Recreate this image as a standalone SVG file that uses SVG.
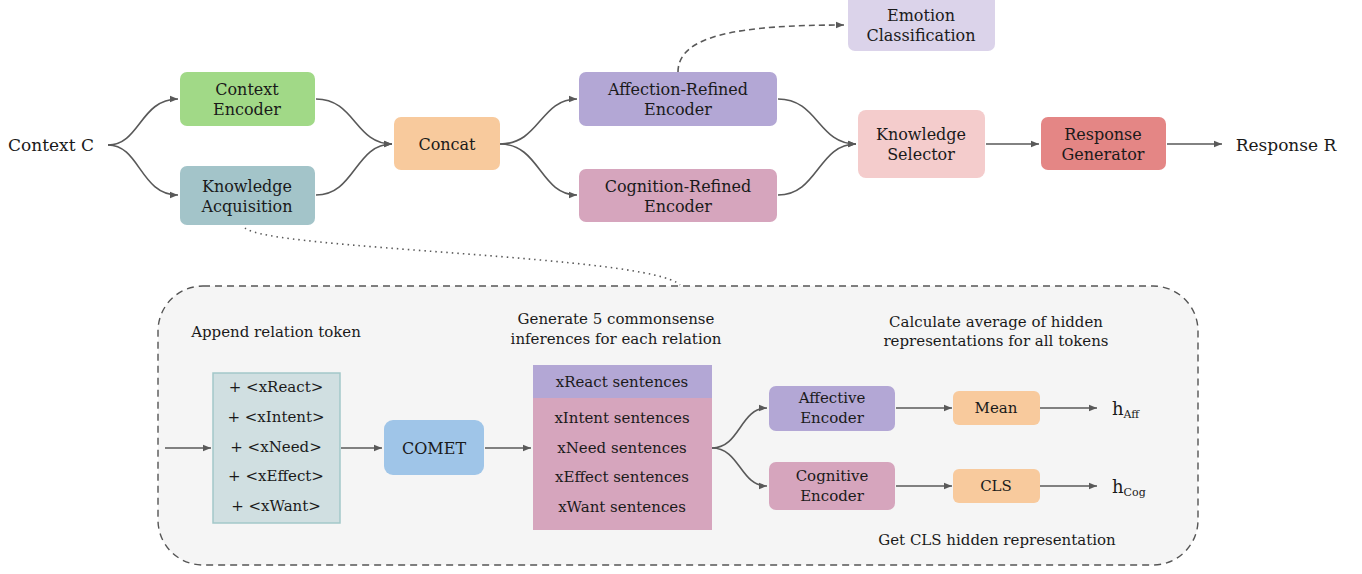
<svg xmlns="http://www.w3.org/2000/svg" width="1362" height="574" viewBox="0 0 1362 574">
<defs>
<marker id="ah" viewBox="0 0 10 10" refX="10" refY="5" markerWidth="8" markerHeight="8" markerUnits="userSpaceOnUse" orient="auto"><path d="M0,1 L10,5 L0,9 z" fill="#595959"/></marker>
<style>
text{font-family:"DejaVu Serif","Liberation Serif",serif;fill:#1a1a1a;text-anchor:middle;dominant-baseline:central}
.t{font-size:16px}
.s{font-size:15px}
.big{font-size:17px}
.c{fill:none;stroke:#595959;stroke-width:1.6}
.a{marker-end:url(#ah)}
</style>
</defs>
<rect width="1362" height="574" fill="#ffffff"/>
<g id="panel">
<rect x="158" y="286" width="1040" height="279" rx="45" fill="#f5f5f5" stroke="#555" stroke-width="1.4" stroke-dasharray="7,5"/>
</g>
<g id="connectors">
<path class="c a" d="M108,145 C140,145 140,99 178,99"/>
<path class="c a" d="M108,145 C140,145 140,195 178,195"/>
<path class="c a" d="M316,99 C355,99 355,144 392,144"/>
<path class="c a" d="M316,195 C355,195 355,144 392,144"/>
<path class="c a" d="M500,144 C540,144 540,99 577,99"/>
<path class="c a" d="M500,144 C540,144 540,195 577,195"/>
<path class="c a" d="M778,99 C818,99 818,144 856,144"/>
<path class="c a" d="M778,195 C818,195 818,144 856,144"/>
<path class="c a" d="M986,144 L1039,144"/>
<path class="c a" d="M1167,144 L1222,144"/>
<path class="c a" d="M678,72 C678,35 740,25 844,25" stroke-dasharray="6,4"/>
<path class="c" d="M245,228 C270,250 650,255 680,285" stroke-dasharray="1.5,4" stroke-width="1.5"/>
<path class="c a" d="M165,448 L211,448"/>
<path class="c a" d="M341,448 L382,448"/>
<path class="c a" d="M485,448 L531,448"/>
<path class="c a" d="M712,448 C740,448 740,408 767,408"/>
<path class="c a" d="M712,448 C740,448 740,486 767,486"/>
<path class="c a" d="M896,408 L952,408"/>
<path class="c a" d="M896,486 L952,486"/>
<path class="c a" d="M1040,408 L1097,408"/>
<path class="c a" d="M1040,486 L1097,486"/>
</g>
<g id="context-c"><text class="big" x="51" y="145">Context C</text></g>
<g id="context-encoder"><rect x="180" y="72" width="135" height="54" rx="7" fill="#a1d987"/><text class="t" x="247" y="89">Context</text><text class="t" x="247" y="109">Encoder</text></g>
<g id="knowledge-acquisition"><rect x="180" y="166" width="135" height="59" rx="7" fill="#a3c4c9"/><text class="t" x="247" y="186">Knowledge</text><text class="t" x="247" y="206">Acquisition</text></g>
<g id="concat"><rect x="394" y="117" width="106" height="53" rx="7" fill="#f8ca9d"/><text class="t" x="447" y="144">Concat</text></g>
<g id="affection-refined-encoder"><rect x="579" y="72" width="198" height="54" rx="7" fill="#b3a7d5"/><text class="t" x="678" y="89">Affection-Refined</text><text class="t" x="678" y="109">Encoder</text></g>
<g id="cognition-refined-encoder"><rect x="579" y="169" width="198" height="53" rx="7" fill="#d6a5bd"/><text class="t" x="678" y="186">Cognition-Refined</text><text class="t" x="678" y="206">Encoder</text></g>
<g id="emotion-classification"><rect x="848" y="-6" width="147" height="57" rx="7" fill="#dbd3ea"/><text class="t" x="921" y="15">Emotion</text><text class="t" x="921" y="35">Classification</text></g>
<g id="knowledge-selector"><rect x="858" y="110" width="127" height="68" rx="8" fill="#f4cccc"/><text class="t" x="921" y="134">Knowledge</text><text class="t" x="921" y="154">Selector</text></g>
<g id="response-generator"><rect x="1041" y="117" width="125" height="53" rx="7" fill="#e48685"/><text class="t" x="1103" y="134">Response</text><text class="t" x="1103" y="154">Generator</text></g>
<g id="response-r"><text class="big" x="1286" y="145">Response R</text></g>
<g id="labels">
<text class="s" x="276" y="332">Append relation token</text>
<text class="s" x="616" y="319">Generate 5 commonsense</text>
<text class="s" x="616" y="339">inferences for each relation</text>
<text class="s" x="996" y="322">Calculate average of hidden</text>
<text class="s" x="996" y="341">representations for all tokens</text>
<text class="s" x="997" y="540">Get CLS hidden representation</text>
</g>
<g id="relation-tokens"><rect x="213" y="373" width="127" height="150" fill="#d0dfe1" stroke="#a3c8c9" stroke-width="1.5"/>
<text class="s" x="276" y="387">+ &lt;xReact&gt;</text><text class="s" x="276" y="417">+ &lt;xIntent&gt;</text><text class="s" x="276" y="447">+ &lt;xNeed&gt;</text><text class="s" x="276" y="476">+ &lt;xEffect&gt;</text><text class="s" x="276" y="506">+ &lt;xWant&gt;</text></g>
<g id="comet"><rect x="384" y="420" width="100" height="55" rx="9" fill="#9fc5e8"/><text class="t" x="434" y="448">COMET</text></g>
<g id="sentences"><rect x="533" y="365" width="179" height="165" fill="#d6a5bd"/><rect x="533" y="365" width="179" height="33" fill="#b3a7d5"/>
<text class="s" x="622" y="382">xReact sentences</text><text class="s" x="622" y="418">xIntent sentences</text><text class="s" x="622" y="448">xNeed sentences</text><text class="s" x="622" y="477">xEffect sentences</text><text class="s" x="622" y="507">xWant sentences</text></g>
<g id="affective-encoder"><rect x="769" y="386" width="126" height="45" rx="7" fill="#b3a7d5"/><text class="s" x="832" y="398">Affective</text><text class="s" x="832" y="418">Encoder</text></g>
<g id="cognitive-encoder"><rect x="769" y="462" width="126" height="48" rx="7" fill="#d6a5bd"/><text class="s" x="832" y="476">Cognitive</text><text class="s" x="832" y="496">Encoder</text></g>
<g id="mean"><rect x="953" y="391" width="87" height="34" rx="6" fill="#f8ca9d"/><text class="s" x="996" y="408">Mean</text></g>
<g id="cls"><rect x="953" y="469" width="87" height="34" rx="6" fill="#f8ca9d"/><text class="s" x="996" y="486">CLS</text></g>
<g id="h-aff"><text x="1112" y="408" style="font-size:18px;text-anchor:start">h<tspan dy="6" style="font-size:11px">Aff</tspan></text></g>
<g id="h-cog"><text x="1112" y="486" style="font-size:18px;text-anchor:start">h<tspan dy="6" style="font-size:11px">Cog</tspan></text></g>
</svg>
